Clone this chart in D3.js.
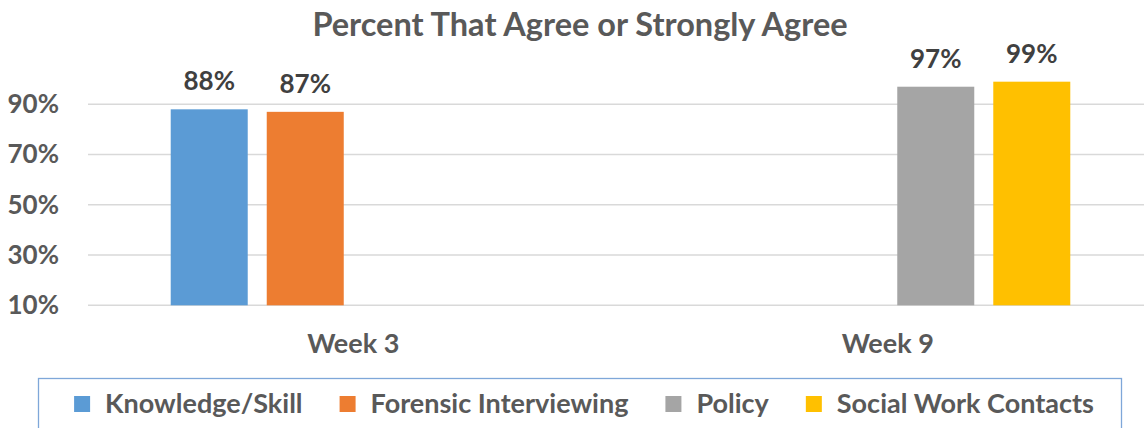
<!DOCTYPE html>
<html>
<head>
<meta charset="utf-8">
<script src="https://cdn.jsdelivr.net/npm/d3@7/dist/d3.min.js"></script>
<style>
  html, body { margin: 0; padding: 0; background: #fff; }
  svg { display: block; font-family: Lato, "Open Sans", sans-serif; font-weight: 700; }
</style>
</head>
<body>
<svg id="chart" width="1144" height="428"></svg>
<script>
// Survey results by week
const categories = ["Week 3", "Week 9"];
const seriesNames = ["Knowledge/Skill", "Forensic Interviewing", "Policy", "Social Work Contacts"];
const seriesColors = ["#5B9BD5", "#ED7D31", "#A5A5A5", "#FFC000"];
// null = no response collected for that week
const knowledgeSkill = [88, null];
const forensicInterviewing = [87, null];
const policy = [null, 97];
const socialWorkContacts = [null, 99];
const yTicks = [10, 30, 50, 70, 90];
const titleText = "Percent That Agree or Strongly Agree";

const seriesValues = [knowledgeSkill, forensicInterviewing, policy, socialWorkContacts];

const svg = d3.select("#chart");
const plot = { left: 86, right: 1155, top: 60, bottom: 305.3 };

const x0 = d3.scaleBand()
  .domain(categories)
  .range([plot.left, plot.right])
  .paddingInner(0.317)
  .paddingOuter(0.1585);

const x1 = d3.scaleBand()
  .domain(seriesNames)
  .range([0, x0.bandwidth()])
  .paddingInner(0.198)
  .paddingOuter(0);

const y = d3.scaleLinear()
  .domain([10, 90])
  .range([plot.bottom, 104.3]);

// Title
svg.append("text")
  .attr("x", 580)
  .attr("y", 36)
  .attr("text-anchor", "middle")
  .attr("fill", "#595959")
  .attr("font-size", 32.5)
  .text(titleText);

// Horizontal gridlines
svg.append("g")
  .selectAll("line")
  .data(yTicks)
  .join("line")
  .attr("x1", 88)
  .attr("x2", plot.right)
  .attr("y1", d => y(d))
  .attr("y2", d => y(d))
  .attr("stroke", "#D9D9D9")
  .attr("stroke-width", 1.5);

// Y axis labels
const yAxis = d3.axisLeft(y)
  .tickValues(yTicks)
  .tickFormat(d => d + "%")
  .tickSize(0)
  .tickPadding(0);
const yg = svg.append("g")
  .attr("transform", "translate(59,0)")
  .call(yAxis);
yg.select(".domain").remove();
yg.selectAll("text")
  .attr("fill", "#595959")
  .attr("font-size", 26)
  .attr("font-family", "Lato, sans-serif")
  .attr("font-weight", 700);

// Bars and value labels
const flat = [];
categories.forEach((c, ci) => {
  seriesNames.forEach((s, si) => {
    const v = seriesValues[si][ci];
    if (v != null) flat.push({ category: c, series: s, color: seriesColors[si], value: v });
  });
});

svg.append("g")
  .selectAll("rect")
  .data(flat)
  .join("rect")
  .attr("x", d => x0(d.category) + x1(d.series))
  .attr("width", x1.bandwidth())
  .attr("y", d => y(d.value))
  .attr("height", d => y(10) - y(d.value))
  .attr("fill", d => d.color);

svg.append("g")
  .selectAll("text")
  .data(flat)
  .join("text")
  .attr("x", d => x0(d.category) + x1(d.series) + x1.bandwidth() / 2)
  .attr("y", d => y(d.value) - 19)
  .attr("text-anchor", "middle")
  .attr("fill", "#404040")
  .attr("font-size", 26)
  .text(d => d.value + "%");

// Category axis
const xAxis = d3.axisBottom(x0).tickSize(0).tickPadding(0);
const xg = svg.append("g")
  .attr("transform", "translate(0,334)")
  .call(xAxis);
xg.select(".domain").remove();
xg.selectAll("text")
  .attr("fill", "#595959")
  .attr("font-size", 27)
  .attr("font-family", "Lato, sans-serif")
  .attr("font-weight", 700)
  .attr("dy", "0.71em");

// Legend
svg.append("rect")
  .attr("x", 38.5)
  .attr("y", 378.5)
  .attr("width", 1083)
  .attr("height", 70)
  .attr("fill", "none")
  .attr("stroke", "#7FA7D9")
  .attr("stroke-width", 1.3);

const legend = svg.append("g");
const items = legend.selectAll("g")
  .data(seriesNames)
  .join("g");
items.append("rect")
  .attr("width", 16)
  .attr("height", 16)
  .attr("y", 396)
  .attr("fill", (d, i) => seriesColors[i]);
items.append("text")
  .attr("x", 31)
  .attr("y", 413)
  .attr("fill", "#595959")
  .attr("font-size", 27)
  .text(d => d);

// lay out legend entries left to right, centred in the box
let cursor = 0;
const offsets = [];
items.each(function () {
  const w = d3.select(this).select("text").node().getComputedTextLength();
  offsets.push(cursor);
  cursor += 31 + w + 37;
});
const total = cursor - 37;
const start = 584 - total / 2;
items.attr("transform", (d, i) => `translate(${start + offsets[i]},0)`);
</script>
</body>
</html>
